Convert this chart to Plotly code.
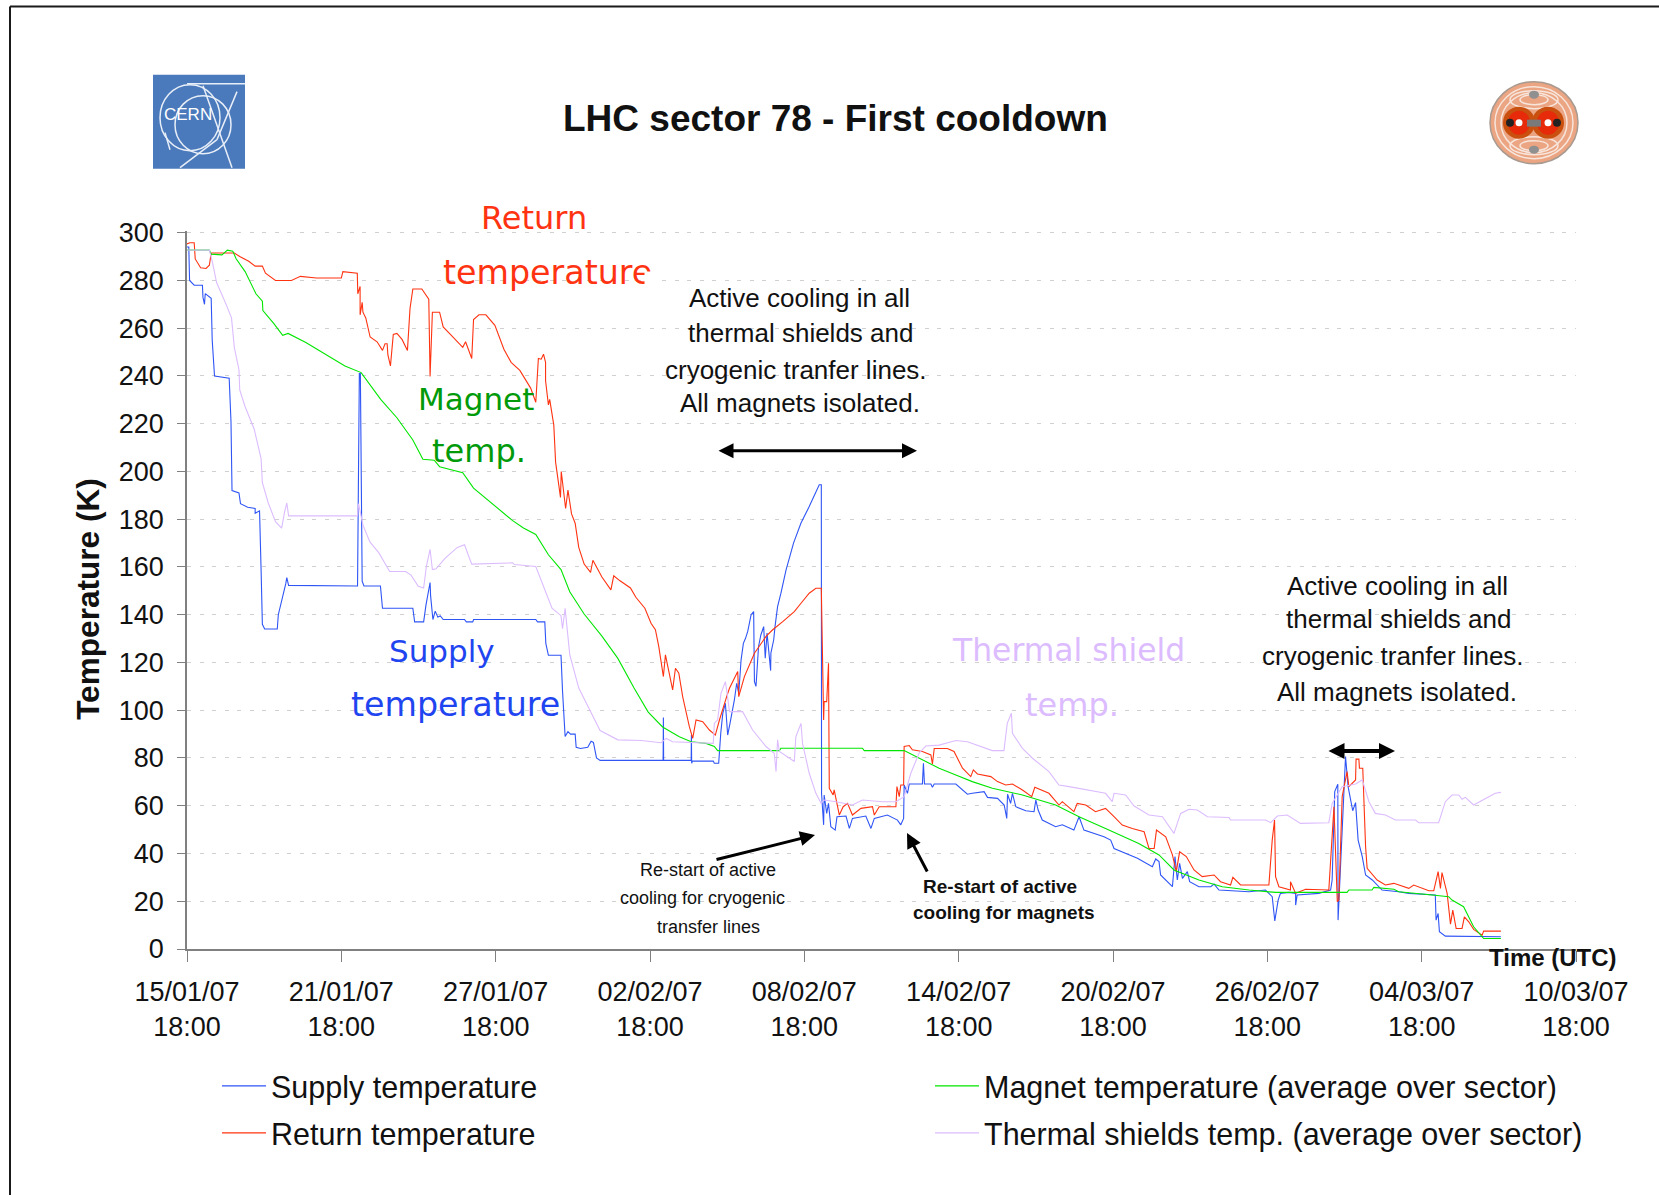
import pandas as pd
import plotly.graph_objects as go

supply_days = [0,.07,.10,.28,.60,.62,.68,.71,.94,.98,1.07,1.64,1.71,1.75,2.02,2.08,2.36,2.65,2.65,2.82,2.88,2.93,3.02,3.51,3.55,3.79,3.84,3.88,3.95,6.63,6.70,6.74,6.81,6.88,7.52,7.60,8.78,8.85,9.20,9.29,9.45,9.47,9.56,9.65,9.75,9.85,9.96,10.79,10.86,11.11,11.14,13.56,13.63,13.91,13.95,14.05,14.54,14.60,14.65,14.70,14.81,14.91,15.09,15.13,15.30,15.58,15.71,15.80,15.92,16.06,18.51,18.52,18.53,19.60,19.61,19.62,19.65,20.46,20.50,20.67,20.75,20.83,20.93,21.02,21.11,21.28,21.37,21.45,21.54,21.63,21.71,21.80,21.93,22.03,22.06,22.12,22.22,22.31,22.42,22.48,22.55,22.69,22.70,22.81,22.86,22.96,23.09,23.29,23.58,23.87,24.19,24.52,24.58,24.66,24.67,24.75,24.77,24.87,24.94,25.03,25.20,25.27,25.62,25.75,25.87,26.39,26.59,26.72,27.23,27.62,27.75,27.86,27.88,28.01,28.08,28.59,28.63,28.67,28.92,28.98,29.05,29.89,30.34,30.53,30.99,31.12,31.51,31.77,31.87,31.90,32.02,32.09,32.22,32.61,32.93,33.00,33.09,33.25,33.77,34.03,34.48,34.68,34.87,35.65,35.91,36.04,36.68,36.95,37.53,37.66,37.79,37.85,38.31,38.41,38.50,38.59,38.70,38.89,38.98,39.34,39.80,39.93,40.12,40.64,41.29,41.93,42.19,42.29,42.42,42.51,42.84,43.10,43.10,43.16,44.00,44.46,44.52,44.62,44.74,44.75,44.85,44.91,45.04,45.14,45.23,45.32,45.43,45.53,45.69,45.82,46.08,46.46,47.11,47.50,48.53,48.56,48.64,48.69,48.92,50.35,51.08]
supply_temp = [294,294,280,278,278,273,270,274.5,272.5,255,240,239,221,192,191,186.5,185,184.5,182.5,183.5,159,136,134,134,140,150,153,155.5,152.3,152,241,241,154,152,152,142.7,142.7,137,137,144,153.5,148,138,141.5,139,139.5,138,138,137,137,138,138,137,137,128,123,123,108,97,89,91,90,90,84.5,84,84.5,87,86.5,80,79,79,97,79,79,89.6,77.8,78.7,78.7,77.8,77.8,90.3,98.7,102.9,89.6,94.5,104.3,111.3,107,121,128,130,133,140,141.3,112,110,126.7,131.5,135,121.8,132.3,116.6,123.9,129.5,135,143.4,149,158.8,170,178.4,185.3,193,194.4,194.4,65,52,64.5,56.8,61,51.2,49.8,55.4,55.7,50.5,54.7,55.7,50.5,54.7,56.1,54,52,54.7,68.7,65.2,69.1,69.1,77.8,69.1,69.1,67.7,69.1,69.1,64.8,65.2,65.9,63.5,63.1,60.3,54.7,64.8,61,65.2,59.6,57.9,57.5,62.4,58.2,54,51.2,52,49.8,55.4,49.8,47,45.6,42.1,39.4,38,34.5,37.7,36.6,31,26.1,38.7,28.9,35.9,29.6,32.4,28.2,26.1,26.1,27.2,24.7,24.4,24,24.7,21.9,11.8,20.5,23.3,23.7,23.3,18.4,22.6,23.3,24.7,28.9,65.9,69,12.1,34.5,51.2,80.6,68,62.4,57.9,61.3,45.6,38.7,31,28.9,24.7,24,23.3,22.6,12.1,14.9,7.2,5.4,5.1,5.1]

return_days = [0,.11,.28,.32,.53,.74,.87,.94,1.84,2.05,2.40,2.65,2.93,3.05,3.44,4.06,4.41,5.03,6.00,6.06,6.62,6.64,6.73,6.73,6.81,6.84,6.95,7.12,7.39,7.60,7.70,7.78,7.81,7.91,8.02,8.16,8.36,8.57,8.67,8.78,9.13,9.40,9.45,9.54,9.82,9.96,10.24,10.72,10.83,11.07,11.14,11.35,11.62,11.97,12.32,12.60,12.94,13.36,13.56,13.66,13.77,13.86,13.94,13.94,14.05,14.10,14.26,14.33,14.47,14.52,14.55,14.72,14.81,14.95,15.09,15.23,15.44,15.69,15.78,16.13,16.48,16.59,16.82,17.24,17.45,17.80,18.04,18.21,18.34,18.52,18.60,18.88,18.99,19.12,19.27,19.40,19.53,19.66,19.79,20.05,20.31,20.54,20.70,20.98,21.09,21.41,21.45,21.67,22.06,22.51,22.77,23.16,23.61,23.87,24.19,24.45,24.66,24.75,24.77,24.87,24.94,24.97,25.12,25.16,25.36,25.51,25.68,25.87,26.20,26.65,26.72,26.91,27.56,27.60,27.69,27.75,27.86,27.88,28.08,28.20,28.59,28.92,28.98,29.05,29.56,29.82,30.15,30.47,30.57,30.73,31.25,31.51,31.83,32.09,32.48,32.84,32.96,33.51,33.90,34.03,34.48,34.61,34.94,35.32,35.71,36.04,36.36,36.75,36.95,37.21,37.40,37.60,37.69,38.05,38.31,38.46,38.59,38.85,39.15,39.47,39.93,40.18,40.57,40.66,40.96,42.06,42.19,42.28,42.32,42.45,42.90,42.90,43.10,43.49,44.39,44.59,44.72,44.78,44.91,45.10,45.17,45.43,45.45,45.56,45.58,45.71,45.82,45.88,46.27,46.59,46.92,47.50,47.69,48.28,48.47,48.64,48.73,48.79,48.99,49.12,49.21,49.34,49.57,49.66,49.83,50.02,50.35,50.41,51.08]
return_temp = [295.3,295.8,295.8,289,285.3,285,286.4,291.5,291.5,290,288,286,286,283,280,280,281.7,281,281,283.7,283,274.4,277.5,265.6,270.8,266.7,264.3,256.3,254.3,250.7,253.5,253.5,248.8,244.2,257.4,257.8,255.3,250.7,268.2,276.4,276.4,272.1,239.8,266.7,266.7,260.5,257.4,252,254.3,247.3,263.6,265.6,265.6,261.2,251.2,245.7,242.3,234.9,229,247.3,247,249.1,245.7,238,227.9,230.2,219.4,203.9,193,189.1,200,184.5,192.2,182.2,178.3,168.2,161.2,157.7,162.8,155.8,150.4,156.3,154.3,151.2,147.3,142.7,136.4,133.7,126.7,114.1,123.2,108.5,117.6,115.5,105.7,98.7,93.1,88.2,95.9,95.2,91.7,89.6,95.9,105.7,109.2,116.2,105.7,114.1,123.9,130.9,133.7,137.1,141.3,144.8,149,151.1,151.1,95.9,103.6,103.6,119.7,67.3,64.5,66.6,56.1,59.6,61,56.1,58.9,59.6,56.1,59.6,59.6,68,63.8,68.7,68.7,84.8,85.2,83.4,82.7,81.3,77.5,84,84,82.7,75.7,72.2,75,73.3,72.2,70.1,68.7,69.1,66.6,63.8,67.7,65.2,60.3,61.7,57.5,61,60.3,57.5,58.9,55.4,51.9,50.5,49.8,49.1,42.1,42.1,49.8,47,39.4,32.4,40.7,38.7,33.1,30.3,31,28.2,26.8,30,26.8,26.8,45.6,54,30.3,26.1,24.7,28.2,23.3,25,24.7,59.6,19.8,20.5,63.8,74.3,68,70.8,79.5,79.5,75.7,75.7,42.8,33.8,28.9,26.8,27.5,25.4,26.8,24.4,24.4,32.4,25.4,32,23.3,10.4,16.3,8.6,8.6,13.5,11.4,8.2,5.8,7.5,7.5]

magnet_days = [0,.87,.94,1.36,1.57,1.78,1.91,2.26,2.68,2.93,2.95,3.37,3.72,3.93,4.62,5.45,6.14,6.77,7.53,8.16,8.78,9.17,9.61,9.82,10.72,11.14,11.83,12.66,13.08,13.56,14.05,14.54,14.88,15.44,16.13,16.75,17.38,17.93,18.49,19.14,19.60,20.18,20.50,20.63,23.03,23.09,26.26,26.33,27.88,28.59,29.24,29.89,30.53,31.31,32.48,33.77,34.68,35.71,37.00,37.79,38.37,39.34,40.25,41.29,42.32,45.10,45.17,46.07,46.14,46.92,47.11,48.41,49.05,49.18,49.63,50.02,50.35,50.41,51.08]
magnet_temp = [292.7,292.7,291,290.7,292.7,292.2,289.1,283.7,274.4,271.3,267.4,262,257,257.8,254,248.8,244.2,241.4,230.2,222.5,213.2,205.1,204.7,202,199.5,193,186.8,179.4,176.3,173.6,165.1,158.9,149.6,140.3,131,121.7,109.3,99.2,93,88.9,86.8,86.1,84.8,83.1,83.1,84.1,84.1,83.1,83.1,79.2,75.7,72.9,70.1,67.3,64.5,60.3,55.4,50.5,44.2,39.4,33.1,28.9,26.1,24.7,23.7,23.7,24.7,24.7,25.8,25,24,22.6,21.9,20.5,17.7,9.3,5.1,4.4,4.4]

shield_days = [0,.87,.99,1.15,1.50,1.73,1.84,2.02,2.05,2.26,2.61,2.88,2.93,3.16,3.44,3.68,3.79,3.88,3.95,6.63,6.67,6.84,7.11,7.46,7.88,8.50,8.71,8.99,9.20,9.31,9.45,9.54,9.68,10.03,10.51,10.79,10.93,11.07,12.66,12.73,13.56,13.84,14.19,14.54,14.60,14.70,14.88,15.23,15.58,16.06,16.75,17.66,18.43,18.63,18.88,19.60,20.46,20.50,20.63,20.76,20.93,20.98,21.09,21.60,21.99,22.51,22.83,22.90,22.96,23.03,23.61,23.67,23.87,23.93,24.19,24.45,24.65,24.77,25.23,25.87,26.26,27.04,27.56,27.88,28.14,28.46,28.72,29.24,29.89,30.34,30.79,31.31,31.76,31.89,32.05,32.09,32.48,32.87,33.51,33.90,34.29,35.32,35.71,35.97,36.04,36.49,36.82,37.40,37.92,38.37,38.63,38.96,39.28,39.67,40.51,40.57,41.93,42.13,42.39,42.77,43.29,44.39,44.52,44.91,45.43,45.69,45.95,46.20,46.59,46.98,47.76,47.89,48.66,48.92,49.18,49.44,49.57,49.70,50.02,50.86,51.08]
shield_temp = [292.7,292.7,287.6,279.1,270.5,264.3,251.9,242.6,234.1,227.1,217.8,205.4,195.3,186.8,179,176.3,182.9,186.8,181.4,181.4,186.5,177.5,170.5,165.9,158.1,158.1,156.6,151.9,151.2,160.5,167.4,158.9,159.2,163.6,168.2,169.3,165.1,161.2,161.7,161,160.2,152.7,142.7,139.6,134.1,142.7,123.3,109.3,101.5,91.5,87.6,87.3,86.4,88.2,86.8,86.4,86.1,94.5,96,107.1,112,108.5,99.4,99.4,91.7,84.8,82,74.3,87.6,82.7,78.5,88.9,94.5,86.1,73.6,65.2,61,62.4,61.7,60.3,62.4,61.7,61.7,63.8,73.6,82,85,85.4,87.3,86.8,85,83.1,83.1,94.5,98.7,90.3,84,79.9,74.3,68.7,68,65.9,65.2,61.7,65.2,64.5,59.9,56.1,55.4,48.4,56.8,58.5,58.2,55.4,55.1,54,54,52.9,55.7,56.1,52.6,52.9,61,68,69.1,70.8,61.7,56.8,56.1,54,54,52.9,52.9,61.7,64.5,64.5,62.7,63.5,60.3,65.2,65.6]

series_names = ["Supply temperature", "Return temperature",
                "Magnet temperature (average over sector)",
                "Thermal shields temp. (average over sector)"]
y_ticks = list(range(0, 301, 20))

START = pd.Timestamp("2007-01-15 18:00")
END = pd.Timestamp("2007-03-10 18:00")
DAY_MS = 86400000
Y_TOP = 300.7

L, R, T, B = 187, 1576, 231.3, 949
W, H = 1659, 1195
def xp(x): return (x - L) / (R - L)
def yp(y): return (B - y) / (B - T)

def dates(days):
    return START + pd.to_timedelta(days, unit="D")

SANS = "Liberation Sans"
LABEL = "DejaVu Sans"
BLUE, RED, GREEN, LILAC = "#2f55f5", "#ff3311", "#00e600", "#dcbcff"

fig = go.Figure()
for name, d, v, c, leg in [
    (series_names[0], supply_days, supply_temp, BLUE, "legend"),
    (series_names[1], return_days, return_temp, RED, "legend2"),
    (series_names[2], magnet_days, magnet_temp, GREEN, "legend3"),
    (series_names[3], shield_days, shield_temp, LILAC, "legend4"),
]:
    fig.add_trace(go.Scatter(x=dates(d), y=v, mode="lines", name=name, legend=leg,
                             line=dict(color=c, width=1.1)))

def legend_at(x, y):
    return dict(x=xp(x), y=yp(y), xanchor="left", yanchor="middle", orientation="v",
                itemwidth=44, bgcolor="rgba(0,0,0,0)", borderwidth=0,
                font=dict(family=SANS, size=30.5, color="#111"))

anns = []
def text(s, x, y, size, color="#111", family=SANS, bold=False):
    anns.append(dict(text=f"<b>{s}</b>" if bold else s, x=xp(x), y=yp(y), xref="paper", yref="paper",
                     showarrow=False, xanchor="center", yanchor="middle",
                     font=dict(family=family, size=size, color=color)))
def arrow(x0, y0, x1, y1, width=2.5, both=False, size=1.0):
    anns.append(dict(text="", x=xp(x1), y=yp(y1), xref="paper", yref="paper",
                     axref="pixel", ayref="pixel", ax=x0 - x1, ay=y0 - y1, showarrow=True,
                     arrowhead=2, startarrowhead=2, arrowside="end+start" if both else "end",
                     arrowwidth=width, arrowsize=size, startarrowsize=size, arrowcolor="#000"))

text("LHC sector 78 - First cooldown", 835, 119, 37, bold=True)
text("Return", 534, 218, 32, "#ff3311", LABEL)
text("temperature", 547, 273, 33.3, "#ff3311", LABEL)
# the reference clips the last letter of this label
anns.append(dict(text=" ", x=xp(651), y=yp(271), xref="paper", yref="paper", showarrow=False,
                 width=10, height=38, bgcolor="#ffffff", font=dict(size=12)))
text("Magnet", 476, 399, 31, "#009a0a", LABEL)
text("temp.", 479, 451, 32, "#009a0a", LABEL)
text("Supply", 442, 651, 31, "#1f45f0", LABEL)
text("temperature", 455, 705, 33.3, "#1f45f0", LABEL)
text("Thermal shield", 1068, 650, 31.4, "#dcbcff", LABEL)
text("temp.", 1072, 705, 32, "#dcbcff", LABEL)
for s, x, y in [("Active cooling in all", 799, 298), ("thermal shields and", 800, 333),
                ("cryogenic tranfer lines.", 796, 370), ("All magnets isolated.", 800, 403),
                ("Active cooling in all", 1397, 586), ("thermal shields and", 1398, 619),
                ("cryogenic tranfer lines.", 1393, 656), ("All magnets isolated.", 1397, 692)]:
    text(s, x, y, 26)
for s, x, y in [("Re-start of active", 708, 870), ("cooling for cryogenic", 702, 898), ("transfer lines", 708, 927)]:
    text(s, x, y, 18)
text("Re-start of active", 1000, 887, 19, bold=True)
text("cooling for magnets", 1004, 913, 19, bold=True)
text("Time (UTC)", 1553, 957, 24, bold=True)
anns.append(dict(text="<b>Temperature (K)</b>", x=xp(88), y=yp(599), xref="paper", yref="paper", showarrow=False,
                 textangle=-90, xanchor="center", yanchor="middle", font=dict(family=SANS, size=31.6, color="#111")))
text("CERN", 188, 115, 17, "#ffffff")
arrow(717, 451, 917, 451, width=3, both=True)
arrow(1327, 751, 1395, 751, width=4, both=True, size=0.8)
arrow(715, 860, 815, 835, width=3)
arrow(928, 873, 907, 833, width=3)

shapes = []
def rect(x0, y0, x1, y1, fill, line=None, lw=0):
    shapes.append(dict(type="rect", xref="paper", yref="paper", x0=xp(x0), x1=xp(x1), y0=yp(y0), y1=yp(y1),
                       fillcolor=fill, line=dict(color=line or fill, width=lw)))
def ell(cx, cy, rx, ry, fill=None, line=None, lw=0):
    shapes.append(dict(type="circle", xref="paper", yref="paper", x0=xp(cx - rx), x1=xp(cx + rx),
                       y0=yp(cy - ry), y1=yp(cy + ry), fillcolor=fill or "rgba(0,0,0,0)",
                       line=dict(color=line or "rgba(0,0,0,0)", width=lw)))
def seg(x0, y0, x1, y1, color, lw):
    shapes.append(dict(type="line", xref="paper", yref="paper", x0=xp(x0), x1=xp(x1), y0=yp(y0), y1=yp(y1),
                       line=dict(color=color, width=lw)))

# page frame
seg(10, 7, 1659, 7, "#1a1a1a", 2)
seg(10, 7, 10, 1195, "#1a1a1a", 2)

# CERN logo
rect(153, 75, 245, 169, "#4a7abb")
ell(190, 118, 30, 33, line="#e8eef8", lw=1.5)
ell(203, 125, 28, 29, line="#e8eef8", lw=1.5)
seg(187, 84, 245, 84, "#e8eef8", 1.5)
seg(203, 86, 232, 168, "#e8eef8", 1.5)
seg(237, 92, 217, 140, "#e8eef8", 1.5)
seg(217, 140, 180, 168, "#e8eef8", 1.5)
seg(165, 133, 170, 150, "#e8eef8", 1.5)

# dipole magnet logo
ell(1534, 123, 44, 41, "#eba582", "#a89a90", 1.5)
for rx, ry in [(39, 36), (33, 30)]:
    ell(1534, 123, rx, ry, line="#f7e5dc", lw=1.5)
for cy in (100, 146):
    ell(1534, cy, 24, 9, line="#f7e5dc", lw=1.5)
    ell(1534, cy, 14, 5, line="#f7e5dc", lw=1.5)
ell(1519, 123, 16, 16, "#c9500f")
ell(1548, 123, 16, 16, "#c9500f")
ell(1519, 123, 11, 12, "#e62a0a")
ell(1548, 123, 11, 12, "#e62a0a")
rect(1527, 120, 1541, 127, "#7a7a7a")
ell(1510, 123, 4, 4, "#222")
ell(1557, 123, 4, 4, "#222")
ell(1519, 123, 3.5, 3.5, "#fff")
ell(1548, 123, 3.5, 3.5, "#fff")
ell(1534, 95, 5, 4, "#909090")
ell(1534, 150, 5, 4, "#909090")

fig.update_layout(
    width=W, height=H, autosize=False,
    margin=dict(l=L, r=W - R, t=T, b=H - B, pad=0, autoexpand=False),
    paper_bgcolor="#ffffff", plot_bgcolor="#ffffff",
    showlegend=True,
    legend=legend_at(217, 1086), legend2=legend_at(217, 1133),
    legend3=legend_at(930, 1086), legend4=legend_at(930, 1133),
    annotations=anns, shapes=shapes,
    xaxis=dict(type="date", range=[START, END], tick0=START, dtick=6 * DAY_MS,
               tickformat="%d/%m/%y<br>%H:%M", showgrid=False, zeroline=False,
               ticks="outside", ticklen=11, tickwidth=1, tickcolor="#808080",
               showline=True, linecolor="#808080", linewidth=1.5, ticklabelstandoff=7,
               tickfont=dict(family=SANS, size=27, color="#111")),
    yaxis=dict(range=[0, Y_TOP], tickmode="array", tickvals=y_ticks, showgrid=True,
               gridcolor="#d0d0d0", griddash="4px,8.5px", gridwidth=1, zeroline=False,
               ticks="outside", ticklen=8, tickwidth=1, tickcolor="#808080",
               showline=True, linecolor="#808080", linewidth=1.5, ticklabelstandoff=8,
               tickfont=dict(family=SANS, size=27, color="#111")),
)

fig.write_html("out.html", config=dict(displayModeBar=False),
               post_script="document.body.style.margin='0';document.body.style.overflow='hidden';")
